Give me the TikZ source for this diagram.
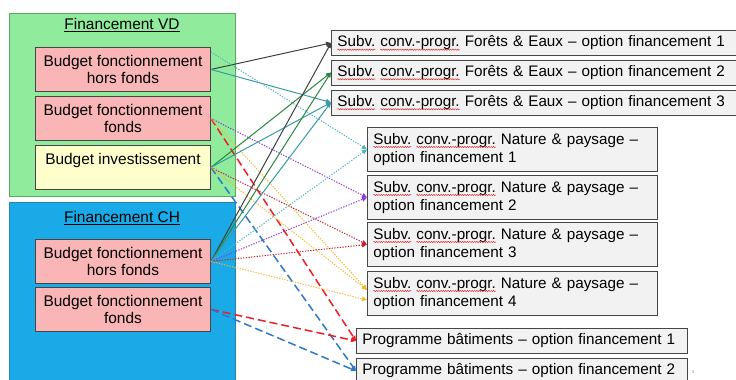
\documentclass[tikz,border=0pt]{standalone}
\usepackage{fontspec}
\setmainfont{Liberation Sans}
\usetikzlibrary{arrows.meta,decorations.pathmorphing}
\definecolor{vdgreen}{RGB}{144,236,156}
\definecolor{vdborder}{RGB}{90,170,100}
\definecolor{chblue}{RGB}{26,170,232}
\definecolor{chborder}{RGB}{40,130,170}
\definecolor{pinkfill}{RGB}{250,182,182}
\definecolor{yellowfill}{RGB}{255,255,204}
\definecolor{boxgray}{RGB}{242,242,242}
\definecolor{edgegray}{RGB}{70,70,70}
\definecolor{cgray}{RGB}{64,64,64}
\definecolor{cgreen}{RGB}{40,135,60}
\definecolor{cteal}{RGB}{55,155,165}
\definecolor{cteallight}{RGB}{80,180,190}
\definecolor{cpurple}{RGB}{140,60,210}
\definecolor{cdred}{RGB}{195,35,45}
\definecolor{cyellow}{RGB}{245,185,45}
\definecolor{cred}{RGB}{235,30,40}
\definecolor{cblue}{RGB}{45,120,200}
\definecolor{spellred}{RGB}{220,40,40}
\newcommand\spell[1]{\tikz[baseline=(sp.base)]{\node[inner sep=0pt, outer sep=0pt, anchor=base, minimum width=0pt, minimum height=0pt, text width={}, align=left, draw=none, fill=none] (sp) {#1}; \draw[overlay, spellred, line width=0.5pt, decorate, decoration={snake, amplitude=0.6pt, segment length=2.4pt}] ([yshift=-2.8pt]sp.base west) -- ([yshift=-2.8pt]sp.base east);}}
\tikzset{
  outerbox/.style={anchor=north west, line width=0.8bp, minimum width=226bp, minimum height=190bp, inner sep=0pt},
  lbox/.style={draw=edgegray, line width=0.9bp, anchor=north west, minimum width=175bp, minimum height=44bp, inner sep=0pt, align=center},
  rbox/.style={draw=edgegray, fill=boxgray, line width=0.9bp, anchor=north west, align=left, inner xsep=6bp, inner ysep=0pt, font=\fontsize{15.3}{18.5}\selectfont},
  title/.style={inner sep=0pt},
  arr/.style={-{Triangle[length=5bp,width=4.5bp]}, line width=1bp},
  dotsln/.style={arr, dash pattern=on 1.3bp off 1.4bp, line width=1bp},
  dashln/.style={arr, dash pattern=on 8bp off 4bp, line width=1.5bp}
}
\begin{document}
\begin{tikzpicture}[x=1bp,y=-1bp,font=\fontsize{15.5}{18}\selectfont]
\useasboundingbox (0,0) rectangle (736,379);
\clip (0,0) rectangle (736,379);
% outer boxes
\node[outerbox, draw=vdborder, fill=vdgreen, minimum height=183bp] (vd) at (9,13) {};
\node[outerbox, draw=chborder, fill=chblue] (ch) at (9,202) {};
\node[title] (vdt) at (122,25) {\underline{Financement VD}};
\node[title] (cht) at (122,218) {\underline{Financement CH}};
% left boxes
\node[lbox, fill=pinkfill] (vdh) at (35,47) {Budget fonctionnement\\hors fonds};
\node[lbox, fill=pinkfill] (vdf) at (35,96) {Budget fonctionnement\\fonds};
\node[lbox, fill=yellowfill] (vdi) at (35,145) {Budget investissement\\\mbox{}};
\node[lbox, fill=pinkfill] (chh) at (35,239) {Budget fonctionnement\\hors fonds};
\node[lbox, fill=pinkfill] (chf) at (35,287) {Budget fonctionnement\\fonds};
% right boxes
\node[rbox, text width=393bp, minimum height=25bp] (fe1) at (331,30) {\spell{Subv.} \spell{conv.-progr.} Forêts \& Eaux – option financement 1};
\node[rbox, text width=393bp, minimum height=25bp] (fe2) at (331,59.5) {\spell{Subv.} \spell{conv.-progr.} Forêts \& Eaux – option financement 2};
\node[rbox, text width=393bp, minimum height=25bp] (fe3) at (331,89.5) {\spell{Subv.} \spell{conv.-progr.} Forêts \& Eaux – option financement 3};
\node[rbox, text width=278bp, minimum height=44bp] (np1) at (367,127) {\spell{Subv.} \spell{conv.-progr.} Nature \& paysage –\\option financement 1};
\node[rbox, text width=278bp, minimum height=44bp] (np2) at (367,175) {\spell{Subv.} \spell{conv.-progr.} Nature \& paysage –\\option financement 2};
\node[rbox, text width=278bp, minimum height=44bp] (np3) at (367,222) {\spell{Subv.} \spell{conv.-progr.} Nature \& paysage –\\option financement 3};
\node[rbox, text width=278bp, minimum height=44bp] (np4) at (367,271) {\spell{Subv.} \spell{conv.-progr.} Nature \& paysage –\\option financement 4};
\node[rbox, text width=319bp, minimum height=25bp] (p1) at (356,328) {Programme bâtiments – option financement 1};
\node[rbox, text width=319bp, minimum height=25bp] (p2) at (356,358) {Programme bâtiments – option financement 2};
\node[inner sep=0pt, font=\fontsize{4}{5}\selectfont, text=cteal] (pg) at (693,372) {3};
% connectors from VD hors fonds
\draw[arr, cgray] (vdh.east) -- (fe1.west);
\draw[arr, cteal] (vdh.east) -- (fe3.west);
\draw[dotsln, cteallight] ([yshift=-5bp]vdh.north east) -- (np1.west);
% from VD fonds
\draw[dashln, cred] (vdf.east) -- (p1.west);
\draw[dotsln, cpurple] (vdf.east) -- (np2.west);
\draw[dotsln, cyellow] (vdf.east) -- ([yshift=3.5bp]np4.west);
% from VD investissement
\draw[arr, cgreen] (vdi.east) -- (fe2.west);
\draw[arr, cteal] (vdi.east) -- (fe3.west);
\draw[dashln, cblue] (vdi.east) -- (p2.west);
\draw[dotsln, cdred] (vdi.east) -- (np3.west);
\draw[dotsln, cyellow] (vdi.east) -- ([yshift=3.5bp]np4.west);
% from CH hors fonds
\draw[arr, cgray] (chh.east) -- (fe1.west);
\draw[arr, cgreen] (chh.east) -- (fe2.west);
\draw[arr, cteal] (chh.east) -- (fe3.west);
\draw[dotsln, cteallight] (chh.east) -- (np1.west);
\draw[dotsln, cpurple] (chh.east) -- (np2.west);
\draw[dotsln, cdred] (chh.east) -- (np3.west);
\draw[dotsln, cyellow] (chh.east) -- ([yshift=-6.5bp]np4.west);
% from CH fonds
\draw[dashln, cred] (chf.east) -- (p1.west);
\draw[dashln, cblue] (chf.east) -- (p2.west);
\end{tikzpicture}
\end{document}
